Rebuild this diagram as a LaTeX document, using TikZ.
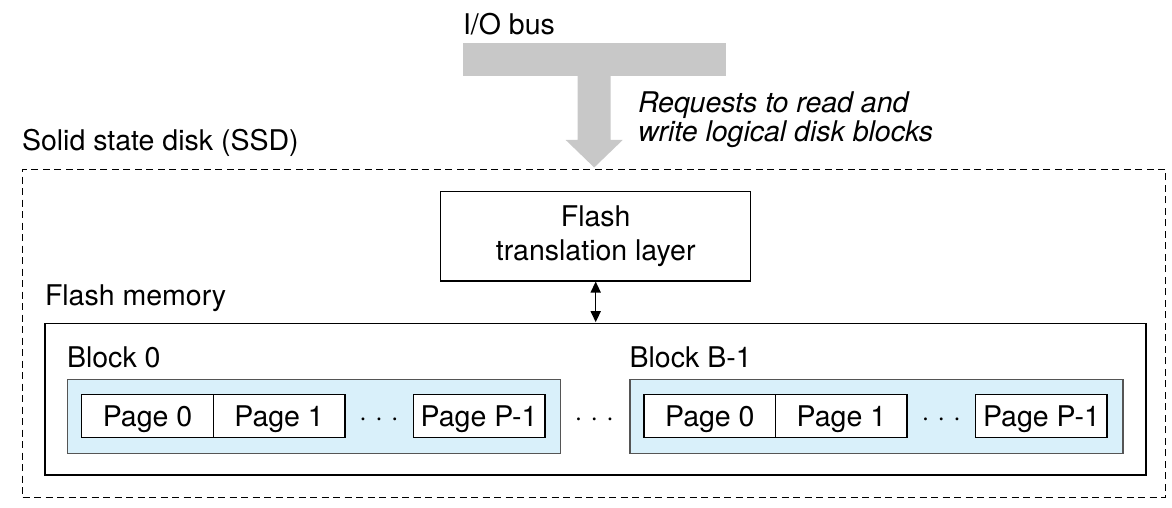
\documentclass[tikz,border=0pt]{standalone}
\usepackage{fontspec}
\setmainfont{TeX Gyre Heros}
\usetikzlibrary{arrows.meta}
\definecolor{busgray}{RGB}{200,200,200}
\definecolor{blockblue}{RGB}{217,240,250}
\definecolor{blockedge}{RGB}{85,85,85}
\tikzset{
  txt/.style={font=\fontsize{28.5}{34.3}\selectfont, inner sep=0pt, outer sep=0pt},
  lbl/.style={txt, anchor=base west},
  itlbl/.style={lbl, font=\fontsize{28.5}{34.3}\selectfont\itshape},
  ssdbox/.style={draw=black, line width=1.3pt, dash pattern=on 7pt off 4.5pt, anchor=north west, inner sep=0pt},
  solidbox/.style={draw=black, line width=1.5pt, anchor=north west, inner sep=0pt},
  blockbox/.style={draw=blockedge, fill=blockblue, line width=1.4pt, anchor=north west, inner sep=0pt,
                   minimum width=493pt, minimum height=74pt},
  pagebox/.style={txt, draw=black, fill=white, line width=1.5pt, anchor=west,
                  minimum width=131.6pt, minimum height=43.4pt, text height=21.4pt, text depth=0pt},
  dotstxt/.style={txt, anchor=base},
  dbl/.style={line width=1.5pt, {Triangle[length=11pt,width=10pt]}-{Triangle[length=11pt,width=10pt]}, shorten <=0.5pt, shorten >=0.5pt}
}
\begin{document}
\begin{tikzpicture}[x=1pt,y=-1pt]
\useasboundingbox (0,0) rectangle (1172,508);

% I/O bus
\node[lbl] (iobus) at (463,34.3) {I/O bus};
\node[fill=busgray, inner sep=0pt, anchor=north west, minimum width=263.7pt, minimum height=32.7pt] (bus) at (462.3,43.3) {};
\fill[busgray] (577.7,75.5) -- (577.7,140) -- (565.7,140) -- (594.2,167.5) -- (622.7,140) -- (610.7,140) -- (610.7,75.5) -- cycle;
\node[itlbl] (req1) at (638,113) {Requests to read and};
\node[itlbl] (req2) at (638,142) {write logical disk blocks};

% SSD
\node[lbl] (ssdlbl) at (22,150.7) {Solid state disk (SSD)};
\node[ssdbox, minimum width=1143pt, minimum height=328.5pt] (ssd) at (22,168.5) {};

% FTL
\node[txt, draw=black, line width=1.5pt, align=center, minimum width=310pt, minimum height=89.3pt] (ftl) at (595.7,236.35) {Flash\\translation layer};

% Flash memory
\node[lbl] (fmlbl) at (45,305) {Flash memory};
\node[solidbox, minimum width=1101pt, minimum height=151.3pt] (fm) at (44,322.7) {};
\draw[dbl] (ftl.south) -- (ftl.south |- fm.north);

% Block 0
\node[lbl] (b0lbl) at (67,367) {Block 0};
\node[blockbox] (b0) at (67,379) {};
\node[pagebox] (b0p0) at (81.7,416) {Page 0};
\node[pagebox] (b0p1) at (b0p0.east) {Page 1};
\node[dotstxt] (b0dots) at (379,426.7) {· · ·};
\node[pagebox] (b0pl) at (413.3,416) {Page P-1};

% between blocks
\node[dotstxt] (bdots) at (594.3,426.7) {· · ·};

% Block B-1
\node[lbl] (b1lbl) at (629.6,367) {Block B-1};
\node[blockbox] (b1) at (629.3,379) {};
\node[pagebox] (b1p0) at (644,416) {Page 0};
\node[pagebox] (b1p1) at (b1p0.east) {Page 1};
\node[dotstxt] (b1dots) at (941.3,426.7) {· · ·};
\node[pagebox] (b1pl) at (975.6,416) {Page P-1};
\end{tikzpicture}
\end{document}
